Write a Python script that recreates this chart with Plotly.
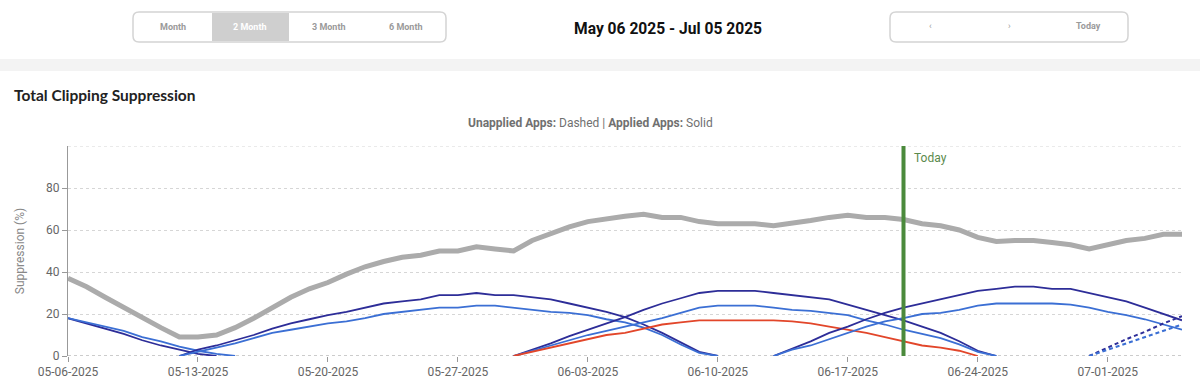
import pandas as pd
import plotly.graph_objects as go

# ---------------- data ----------------
start_date = "2025-05-06"
n_days = 61
dates = pd.date_range(start_date, periods=n_days)

total = [37, 33, 28, 23, 18.5, 13.5, 9, 9, 10, 13.5,
         18, 23, 28, 32, 35, 39, 42.5, 45, 47, 48,
         50, 50, 52, 51, 50, 55, 58.5, 61.5, 64, 65.5,
         66.5, 67.5, 66, 66, 64, 63, 63, 63, 62, 63,
         64.5, 66, 67, 66, 66, 65, 63, 62, 60, 56.5,
         54.5, 55, 55, 54, 53, 51, 53, 55, 56, 58, 58]

app_a_start, app_a = 0, [18, 15.5, 13, 10.5, 7.5, 5, 3, 1, 0]
app_b_start, app_b = 0, [18, 16, 14, 12, 9, 7, 4.5, 2.5, 1, 0]
app_c_start, app_c = 6, [0, 3, 5, 7.5, 10, 13, 15.5, 17.5, 19.5, 21, 23, 25, 26, 27, 29, 29,
                         30, 29, 29, 28, 27, 25, 23, 21, 18.5, 15, 11, 6.5, 2, 0]
app_d_start, app_d = 6, [0, 2, 4, 6, 8.5, 11, 12.5, 14, 15.5, 16.5, 18, 20, 21, 22, 23, 23,
                         24, 24, 23, 22, 21, 20.5, 19.5, 17.5, 16, 13.5, 10, 5.5, 1.5, 0]
app_e_start, app_e = 24, [0, 3, 6, 9.5, 12.5, 15.5, 18.5, 22, 25, 27.5, 30, 31, 31, 31, 30,
                          29, 28, 27, 24.5, 22, 19.5, 17, 14, 11, 7, 2.5, 0]
app_f_start, app_f = 24, [0, 2.5, 5, 7.5, 10, 12, 14, 16, 18, 20.5, 23, 24, 24, 24, 23,
                          22, 21.5, 20.5, 19.5, 17, 15, 12.5, 10.5, 8.5, 5.5, 2, 0]
app_g_start, app_g = 24, [0, 2, 4, 6, 8, 10, 11, 13, 15, 16, 17, 17, 17, 17, 17,
                          16.5, 15.5, 14, 12.5, 11, 9, 7, 5, 4, 2.5, 0]
app_h_start, app_h = 38, [0, 3.5, 7, 11, 14, 17.5, 20.5, 23, 25, 27, 29, 31, 32, 33, 33,
                          32, 32, 30, 28, 26, 23, 20, 17]
app_i_start, app_i = 38, [0, 3, 5, 8, 11, 14, 16.5, 18, 20, 20.5, 22, 24, 25, 25, 25,
                          25, 24.5, 23, 21, 19.5, 17.5, 15, 12.5]
unapp_j_start, unapp_j = 55, [0, 4, 8, 11.5, 15.5, 19]
unapp_k_start, unapp_k = 55, [0, 3, 6, 9, 12, 15]

x_ticks = ["2025-05-06", "2025-05-13", "2025-05-20", "2025-05-27", "2025-06-03",
           "2025-06-10", "2025-06-17", "2025-06-24", "2025-07-01"]
y_ticks = [0, 20, 40, 60, 80]
today = "2025-06-20"

# ---------------- styling ----------------
DARK = "#2d2d98"
MED = "#3b6fd4"
RED = "#e2462a"
GRAY = "#ababab"
GREEN = "#4b8a3c"

W, H = 1200, 391
L, R, T, B = 68, 1182, 146, 356  # plot area in pixels


def px(X):
    return (X - L) / (R - L)


def py(Y):
    return (B - Y) / (B - T)


def rrect(x0, y0, x1, y1, r):
    pts = [
        f"M {px(x0 + r)} {py(y0)}",
        f"L {px(x1 - r)} {py(y0)}",
        f"Q {px(x1)} {py(y0)} {px(x1)} {py(y0 + r)}",
        f"L {px(x1)} {py(y1 - r)}",
        f"Q {px(x1)} {py(y1)} {px(x1 - r)} {py(y1)}",
        f"L {px(x0 + r)} {py(y1)}",
        f"Q {px(x0)} {py(y1)} {px(x0)} {py(y1 - r)}",
        f"L {px(x0)} {py(y0 + r)}",
        f"Q {px(x0)} {py(y0)} {px(x0 + r)} {py(y0)}",
        "Z",
    ]
    return " ".join(pts)


fig = go.Figure()


def add_series(start, vals, color, width, dash="solid"):
    xs = dates[start:start + len(vals)]
    fig.add_trace(go.Scatter(x=xs, y=vals, mode="lines",
                             line=dict(color=color, width=width, dash=dash),
                             showlegend=False, hoverinfo="skip"))


add_series(0, total, GRAY, 5)
add_series(app_a_start, app_a, DARK, 1.8)
add_series(app_b_start, app_b, MED, 1.8)
add_series(app_c_start, app_c, DARK, 1.8)
add_series(app_d_start, app_d, MED, 1.8)
add_series(app_e_start, app_e, DARK, 1.8)
add_series(app_f_start, app_f, MED, 1.8)
add_series(app_g_start, app_g, RED, 1.8)
add_series(app_h_start, app_h, DARK, 1.8)
add_series(app_i_start, app_i, MED, 1.8)
add_series(unapp_j_start, unapp_j, DARK, 2, "4px,3px")
add_series(unapp_k_start, unapp_k, MED, 2, "4px,3px")

shapes = []
# header separator band
shapes.append(dict(type="rect", xref="paper", yref="paper",
                   x0=px(0), x1=px(W), y0=py(59), y1=py(71),
                   fillcolor="#f3f3f3", line=dict(width=0), layer="below"))
# button group
shapes.append(dict(type="path", xref="paper", yref="paper",
                   path=rrect(133, 12, 446, 42, 6),
                   line=dict(color="#d4d4d4", width=1.5), fillcolor="white"))
shapes.append(dict(type="rect", xref="paper", yref="paper",
                   x0=px(212), x1=px(289), y0=py(13), y1=py(41),
                   fillcolor="#cfcfcf", line=dict(width=0)))
shapes.append(dict(type="path", xref="paper", yref="paper",
                   path=rrect(890, 12, 1128, 42, 6),
                   line=dict(color="#d4d4d4", width=1.5), fillcolor="white"))
# top gridline at 100
shapes.append(dict(type="line", xref="paper", yref="y", x0=0, x1=1, y0=100, y1=100,
                   line=dict(color="#d6d6d6", width=1, dash="dot"), layer="below"))
# baseline
shapes.append(dict(type="line", xref="paper", yref="y", x0=0, x1=1, y0=0, y1=0,
                   line=dict(color="#9a9a9a", width=1.2, dash="dot"), layer="below"))
# today line
shapes.append(dict(type="line", xref="x", yref="y", x0=today, x1=today, y0=0, y1=100,
                   line=dict(color=GREEN, width=4)))

annotations = []
btn_font = dict(family="Roboto, sans-serif", size=9, color="#9a9a9a")
for label, cx, col in [("Month", 173, "#9a9a9a"), ("2 Month", 250, "white"),
                       ("3 Month", 329, "#9a9a9a"), ("6 Month", 406, "#9a9a9a")]:
    f = dict(btn_font)
    f["color"] = col
    annotations.append(dict(xref="paper", yref="paper", x=px(cx), y=py(27),
                            text=f"<b>{label}</b>",
                            showarrow=False, font=f, xanchor="center", yanchor="middle"))
for label, cx in [("‹", 930), ("›", 1009), ("<b>Today</b>", 1088)]:
    annotations.append(dict(xref="paper", yref="paper", x=px(cx), y=py(26),
                            text=label, showarrow=False, font=btn_font,
                            xanchor="center", yanchor="middle"))
annotations.append(dict(xref="paper", yref="paper", x=px(668), y=py(29),
                        text="<b>May 06 2025 - Jul 05 2025</b>", showarrow=False,
                        font=dict(family="Roboto, sans-serif", size=15.6, color="#111"),
                        xanchor="center", yanchor="middle"))
annotations.append(dict(xref="paper", yref="paper", x=px(12), y=py(95),
                        text="<b>Total Clipping Suppression</b>", showarrow=False,
                        font=dict(family="Lato, sans-serif", size=15.5, color="#222"),
                        xanchor="left", yanchor="middle"))
annotations.append(dict(xref="paper", yref="paper", x=px(590), y=py(123),
                        text="<b>Unapplied Apps:</b> Dashed | <b>Applied Apps:</b> Solid",
                        showarrow=False,
                        font=dict(family="Roboto, sans-serif", size=12, color="#707070"),
                        xanchor="center", yanchor="middle"))
annotations.append(dict(xref="x", yref="paper", x=today, y=py(158), xshift=8,
                        text="Today", showarrow=False,
                        font=dict(family="Roboto, sans-serif", size=12, color="#5b8a4c"),
                        xanchor="left", yanchor="middle"))

fig.update_layout(
    width=W, height=H,
    margin=dict(l=L, r=W - R, t=T, b=H - B, autoexpand=False),
    paper_bgcolor="white", plot_bgcolor="white",
    shapes=shapes, annotations=annotations, showlegend=False,
    font=dict(family="Roboto, sans-serif", size=12, color="#666"),
    xaxis=dict(type="date", range=[dates[0], dates[-1]], tickvals=x_ticks,
               tickformat="%m-%d-%Y", ticks="outside", ticklen=5, tickcolor="#999",
               showgrid=False, showline=False, zeroline=False,
               tickfont=dict(family="Roboto, sans-serif", size=12, color="#666")),
    yaxis=dict(range=[0, 100], tickvals=y_ticks, ticks="outside", ticklen=5,
               tickcolor="#999", showgrid=True, gridcolor="#d6d6d6", griddash="dot",
               showline=True, linecolor="#999", linewidth=1, zeroline=False,
               tickfont=dict(family="Roboto, sans-serif", size=12, color="#666"),
               title=dict(text="Suppression (%)", standoff=18,
                          font=dict(family="Roboto, sans-serif", size=12, color="#888"))),
)

fig.write_html("out.html", config={"displayModeBar": False},
               post_script="document.body.style.margin='0px';")
